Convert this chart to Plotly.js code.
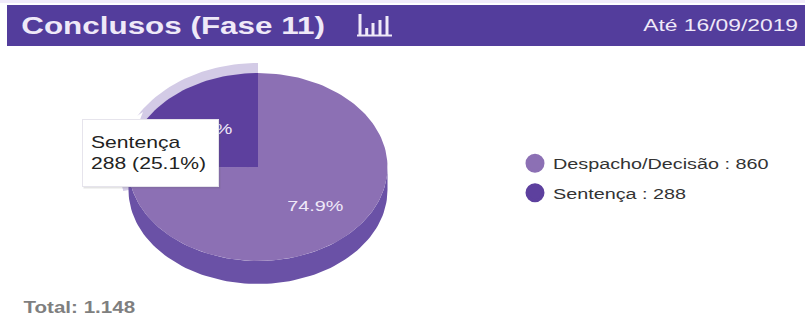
<!DOCTYPE html>
<html>
<head>
<meta charset="utf-8">
<script src="https://cdn.plot.ly/plotly-3.0.1.min.js"></script>
<style>
html,body{margin:0;padding:0;background:#fff}
/* Wide letterforms for all chart text */
#chart text.annotation-text{transform-box:fill-box;transform-origin:50% 50%;transform:scaleX(1.32)}
#chart text.legendtext{transform-box:fill-box;transform-origin:0 50%;transform:translateX(-2px) scaleX(1.32)}
#chart .legend .scrollbox{clip-path:none !important}
</style>
</head>
<body>
<div id="chart" style="width:805px;height:331px"></div>
<script>
// Case counts per decision type
const categories = ["Despacho/Decisão", "Sentença"];
const values = [860, 288];
const sliceColors = ["#8c70b4", "#5d409e"];
const wallColor = "#6a51a6";
const haloColor = "#d3cbe6";
const headerColor = "#533d9c";
const headerTitle = "Conclusos (Fase 11)";
const headerDate = "Até 16/09/2019";
const totalText = "Total: 1.148";

const total = values[0] + values[1];
const pct = v => (100 * v / total).toFixed(1) + "%";

// Tilted pie geometry, in plot units (axes run 1:1 with the page)
const cx = 258, cy = 167, rx = 129.5, ry = 94, depth = 23;

function arc(from, to, rX, rY, cX, cY) {
  const pts = [];
  const n = Math.max(2, Math.ceil(Math.abs(to - from) / 2));
  for (let i = 0; i <= n; i++) {
    const a = (from + (to - from) * i / n) * Math.PI / 180;
    pts.push([cX + rX * Math.sin(a), cY - rY * Math.cos(a)]);
  }
  return pts;
}
function polygon(pts, color, name) {
  return {
    type: "scatter", mode: "lines", fill: "toself", fillcolor: color,
    x: pts.map(p => p[0]), y: pts.map(p => p[1]),
    line: {width: 0, color: color}, hoverinfo: "skip", showlegend: false, name: name
  };
}

const sweep0 = 360 * values[0] / total;

// Hover halo around the highlighted slice, then side wall, then the two top faces
const traces = [
  polygon(arc(sweep0 - 13, 360, rx + 9, ry + 10, cx, cy).concat([[cx, cy]]), haloColor, "halo"),
  polygon(arc(90, 270, rx, ry, cx, cy + depth).concat(arc(270, 90, rx, ry, cx, cy)), wallColor, "wall"),
  polygon(arc(0, sweep0, rx, ry, cx, cy).concat([[cx, cy]]), sliceColors[0], categories[0]),
  polygon(arc(sweep0, 360, rx, ry, cx, cy).concat([[cx, cy]]), sliceColors[1], categories[1])
];

// Legend entries
categories.forEach((c, i) => traces.push({
  type: "scatter", mode: "markers", x: [null], y: [null],
  name: c + " : " + values[i], legendgroup: c,
  marker: {color: sliceColors[i], size: 16, symbol: "circle", line: {color: sliceColors[i], width: 3}}
}));

const white = "#efe9f8";
const font = "Liberation Sans, Arial, sans-serif";

// Bar-chart icon in the header: x, top of each bar
const iconBars = [[360, 14], [366.7, 28], [373, 23], [380, 20], [387, 16]];
const shapes = [
  {type: "rect", xref: "x", yref: "y", x0: 0, x1: 805, y0: 0, y1: 3, fillcolor: "#f1ebfa", line: {width: 0}, layer: "below"},
  {type: "rect", xref: "x", yref: "y", x0: 7, x1: 805, y0: 5, y1: 46, fillcolor: headerColor, line: {width: 0}, layer: "below"},
  {type: "line", xref: "x", yref: "y", x0: 357, x1: 392, y0: 35.5, y1: 35.5, line: {color: white, width: 2}}
].concat(iconBars.map(b => ({
  type: "line", xref: "x", yref: "y", x0: b[0], x1: b[0], y0: 35, y1: b[1], line: {color: white, width: 3}
}))).concat([
  // Tooltip pointer
  {type: "path", xref: "x", yref: "y", path: "M 128 122 L 143 112 L 139 122 Z", fillcolor: "#ffffff", line: {width: 0}}
]);

const annotations = [
  {text: "<b>" + headerTitle + "</b>", x: 173, y: 25.5, font: {size: 23.8, color: white, family: font}},
  {text: headerDate, x: 720.5, y: 25, font: {size: 17.3, color: white, family: font}},
  {text: pct(values[0]), x: 315, y: 205, font: {size: 15, color: white, family: font}},
  {text: pct(values[1]), x: 204, y: 128, font: {size: 15, color: white, family: font}},
  {text: "<b>" + totalText + "</b>", x: 79, y: 307, font: {size: 15.6, color: "#7f7f7f", family: font}},
  // Tooltip: soft shadow, white body, then its text
  {text: "\u00a0", x: 151.5, y: 154, width: 134, height: 65, bgcolor: "rgba(90,90,90,0.16)", font: {size: 10}},
  {text: "\u00a0", x: 150, y: 152.5, width: 133, height: 64, bgcolor: "#ffffff", bordercolor: "#e6e4ec", borderwidth: 1, font: {size: 10}},
  {text: categories[1] + "<br>" + values[1] + " (" + pct(values[1]) + ")", x: 148, y: 153, align: "left",
   font: {size: 16, color: "#222", family: font}}
].map(a => Object.assign({xref: "x", yref: "y", showarrow: false}, a));

const layout = {
  width: 805, height: 331,
  margin: {l: 0, r: 0, t: 0, b: 0},
  paper_bgcolor: "#ffffff", plot_bgcolor: "#ffffff",
  xaxis: {range: [0, 805], visible: false, fixedrange: true},
  yaxis: {range: [331, 0], visible: false, fixedrange: true},
  shapes: shapes,
  annotations: annotations,
  showlegend: true,
  legend: {
    x: 515 / 805, y: 1 - 147 / 331, xanchor: "left", yanchor: "top",
    font: {size: 15, color: "#333", family: font},
    traceorder: "grouped", tracegroupgap: 7, itemsizing: "trace",
    bgcolor: "rgba(0,0,0,0)"
  },
  hovermode: false
};

Plotly.newPlot("chart", traces, layout, {displayModeBar: false, staticPlot: true});
</script>
</body>
</html>
